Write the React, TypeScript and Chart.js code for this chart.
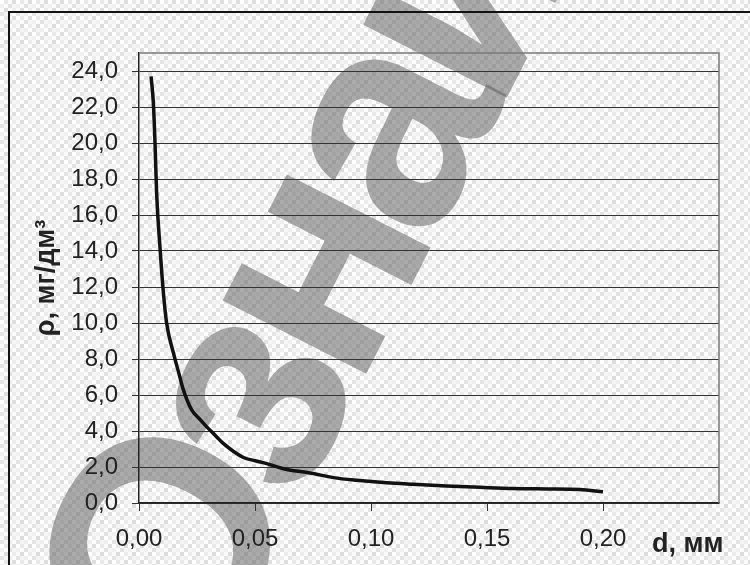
import React, { useEffect, useRef } from 'react';
import { Chart, registerables } from 'chart.js';

Chart.register(...registerables);

// Data
const diameters = [0.0052, 0.0062, 0.0069, 0.0076, 0.0091, 0.0105, 0.0119, 0.0148, 0.0172, 0.0191, 0.0227, 0.0263, 0.0292, 0.0333, 0.0363, 0.045, 0.05, 0.055, 0.0637, 0.0737, 0.0838, 0.0938, 0.1068, 0.118, 0.1326, 0.147, 0.161, 0.176, 0.19, 0.2];
const concentrations = [23.7, 22.2, 20.0, 17.2, 14.1, 11.7, 10.0, 8.35, 7.2, 6.3, 5.17, 4.64, 4.23, 3.7, 3.31, 2.53, 2.35, 2.19, 1.86, 1.67, 1.41, 1.26, 1.12, 1.04, 0.95, 0.87, 0.8, 0.78, 0.75, 0.62];
const xTicks = [0, 0.05, 0.1, 0.15, 0.2];
const yTicks = [0, 2, 4, 6, 8, 10, 12, 14, 16, 18, 20, 22, 24];
const xTitle = 'd, мм';
const yTitle = 'ρ, мг/дм³';
const watermark = 'Ознайомлення';

const tileGrays = [
  [255, 232, 250, 222],
  [240, 252, 226, 246],
  [250, 220, 255, 236],
  [228, 244, 238, 252],
];

export default function App() {
  const ref = useRef<HTMLCanvasElement>(null);

  useEffect(() => {
    const canvas = ref.current;
    if (!canvas) return;

    const tile = document.createElement('canvas');
    tile.width = 16;
    tile.height = 16;
    const tctx = tile.getContext('2d')!;
    tileGrays.forEach((row, r) =>
      row.forEach((g, c) => {
        tctx.fillStyle = `rgb(${g},${g},${g})`;
        tctx.fillRect(c * 4, r * 4, 4, 4);
      })
    );

    const bgPlugin = {
      id: 'bgPlugin',
      beforeDraw(chart: any) {
        const { ctx, width, height } = chart;
        ctx.save();
        const pat = ctx.createPattern(tile, 'repeat');
        ctx.fillStyle = pat;
        ctx.fillRect(0, 0, width, height);
        ctx.translate(200, 700);
        ctx.rotate((-63 * Math.PI) / 180);
        ctx.font = 'bold 305px "Liberation Sans", Arial, sans-serif';
        (ctx as any).letterSpacing = '-22px';
        ctx.fillStyle = 'rgba(90,90,90,0.5)';
        ctx.textBaseline = 'alphabetic';
        ctx.fillText(watermark, 0, 0);
        ctx.restore();
      },
      beforeDatasetsDraw(chart: any) {
        const { ctx, chartArea } = chart;
        ctx.save();
        ctx.strokeStyle = '#7a7a7a';
        ctx.lineWidth = 1.5;
        ctx.beginPath();
        ctx.moveTo(chartArea.left, chartArea.top);
        ctx.lineTo(chartArea.right, chartArea.top);
        ctx.lineTo(chartArea.right, chartArea.bottom);
        ctx.stroke();
        ctx.restore();
      },
      afterDraw(chart: any) {
        const { ctx, width, height, chartArea } = chart;
        const xs = chart.scales.x;
        ctx.save();
        ctx.fillStyle = '#222';
        ctx.font = 'bold 27px "Liberation Sans", Arial, sans-serif';
        ctx.textAlign = 'left';
        ctx.textBaseline = 'alphabetic';
        ctx.fillText(xTitle, xs.getPixelForValue(0.2) + 49, chartArea.bottom + 49);
        ctx.strokeStyle = '#111';
        ctx.lineWidth = 2;
        ctx.beginPath();
        ctx.moveTo(9, height);
        ctx.lineTo(9, 12);
        ctx.lineTo(width, 12);
        ctx.stroke();
        ctx.restore();
      },
    };

    const tickFont = { family: '"Liberation Sans", Arial, sans-serif', size: 24 };

    const chart = new Chart(canvas, {
      type: 'line',
      data: {
        datasets: [
          {
            data: diameters.map((d, i) => ({ x: d, y: concentrations[i] })),
            borderColor: '#111',
            borderWidth: 3.5,
            pointRadius: 0,
            fill: false,
            cubicInterpolationMode: 'monotone',
          },
        ],
      },
      options: {
        animation: false,
        responsive: false,
        layout: { padding: { top: 53, right: 31, left: 0, bottom: 0 } },
        plugins: { legend: { display: false }, tooltip: { enabled: false } },
        scales: {
          x: {
            type: 'linear',
            min: 0,
            max: 0.25,
            afterBuildTicks: (s: any) => {
              s.ticks = xTicks.map((v) => ({ value: v }));
            },
            afterFit: (s: any) => {
              s.height = 62;
            },
            ticks: {
              callback: (v: any) => Number(v).toFixed(2).replace('.', ','),
              font: tickFont,
              color: '#222',
              padding: 14,
              maxRotation: 0,
              autoSkip: false,
            },
            grid: { drawOnChartArea: false, drawTicks: true, tickLength: 8, color: '#333', lineWidth: 1 },
            border: { display: true, color: '#222', width: 1.5 },
          },
          y: {
            min: 0,
            max: 25,
            afterBuildTicks: (s: any) => {
              s.ticks = yTicks.map((v) => ({ value: v }));
            },
            afterFit: (s: any) => {
              s.width = 139;
            },
            ticks: {
              callback: (v: any) => Number(v).toFixed(1).replace('.', ','),
              font: tickFont,
              color: '#222',
              padding: 14,
              autoSkip: false,
            },
            grid: { color: '#333', lineWidth: 1, tickLength: 7, drawTicks: true },
            border: { display: true, color: '#222', width: 1.5 },
            title: {
              display: true,
              text: yTitle,
              color: '#222',
              font: { family: '"Liberation Sans", Arial, sans-serif', size: 27, weight: 'bold' },
              padding: { top: 30, bottom: 0 },
            },
          },
        },
      },
      plugins: [bgPlugin],
    } as any);

    return () => chart.destroy();
  }, []);

  return (
    <div style={{ position: 'absolute', left: 0, top: 0, width: 750, height: 565 }}>
      <canvas ref={ref} width={750} height={565} style={{ display: 'block' }} />
    </div>
  );
}
